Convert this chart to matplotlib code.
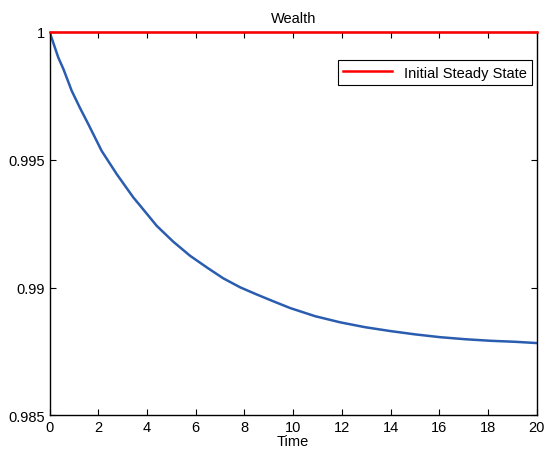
import numpy as np
import matplotlib
matplotlib.use("Agg")
import matplotlib.pyplot as plt

plt.rcParams['font.family'] = ['Liberation Sans', 'DejaVu Sans']
plt.rcParams['font.size'] = 10.5

# =========================
# DATA
# =========================
time = [0, 0.36, 0.57, 0.91, 1.25, 1.59, 2.14, 2.76, 3.44, 3.72, 4.4, 5.08,
        5.77, 6.45, 7.13, 7.82, 8.5, 9.19, 9.87, 10.9, 11.93, 12.95, 13.98,
        15.0, 16.03, 17.06, 18.08, 19.1, 20]
wealth = [1.0, 0.99899, 0.99854, 0.99769, 0.99702, 0.99639, 0.99534, 0.99443,
          0.99352, 0.99320, 0.99241, 0.99179, 0.99124, 0.99079, 0.99036,
          0.99001, 0.98973, 0.98946, 0.98920, 0.98888, 0.98864, 0.98845,
          0.98830, 0.98817, 0.98806, 0.98798, 0.98792, 0.98788, 0.98783]
steady_state = 1.0

# =========================
# PLOT
# =========================
fig = plt.figure(figsize=(5.44, 4.6), dpi=100)
ax = fig.add_axes([0.091, 0.0946, 0.896, 0.8344])

ax.plot(time, wealth, color='#2a5db0', linewidth=1.8)
ax.plot([0, 20], [steady_state, steady_state], color='#ff0000', linewidth=1.8,
        label='Initial Steady State', clip_on=False, zorder=5)

ax.set_xlim(0, 20)
ax.set_ylim(0.985, 1.0)
ax.set_xticks(np.arange(0, 21, 2))
ax.set_yticks([0.985, 0.99, 0.995, 1.0])
ax.set_yticklabels(['0.985', '0.99', '0.995', '1'])
ax.tick_params(direction='in', top=True, right=True, length=4, width=0.8, pad=3)
for s in ax.spines.values():
    s.set_linewidth(1.0)

ax.set_title('Wealth', fontsize=10.5, pad=7)
ax.set_xlabel('Time', labelpad=0)

leg = ax.legend(loc='upper right', bbox_to_anchor=(0.99, 0.925), fancybox=False,
                edgecolor='black', framealpha=1, borderpad=0.35, handlelength=3.4,
                borderaxespad=0)
leg.get_frame().set_linewidth(0.8)

fig.savefig('out.png', dpi=100)
